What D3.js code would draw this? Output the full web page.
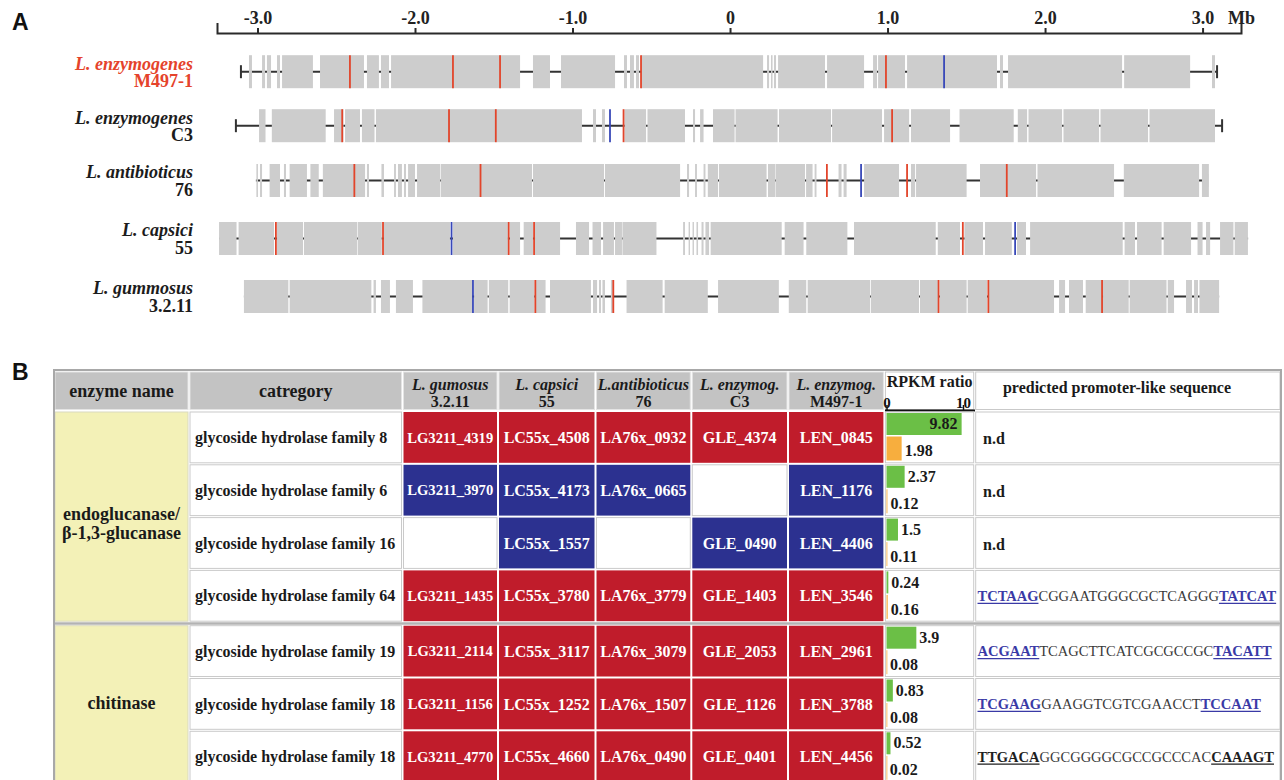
<!DOCTYPE html>
<html><head><meta charset="utf-8">
<script src="https://cdn.jsdelivr.net/npm/d3@7"></script>
<style>
html,body{margin:0;padding:0;background:#fff;}
svg{display:block;}
svg text{font-family:"Liberation Serif","DejaVu Serif","Times New Roman",Times,serif;}
svg text.sans{font-family:"Liberation Sans",Arial,Helvetica,sans-serif;}
</style></head><body>
<svg id="chart" width="1284" height="780"></svg>
<script>
// ================= Panel A data =================
const axisTicks = [-3, -2, -1, 0, 1, 2, 3];
const axisTickLabels = ["-3.0", "-2.0", "-1.0", "0", "1.0", "2.0", "3.0"];
const trackSpecies = ["L. enzymogenes", "L. enzymogenes", "L. antibioticus", "L. capsici", "L. gummosus"];
const trackStrains = ["M497-1", "C3", "76", "55", "3.2.11"];
const trackExtents = [[-3.105, 3.092], [-3.137, 3.124], [-3.010, 3.029], [-3.244, 3.289], [-3.086, 3.105]];
const trackCaps = [[true, true], [true, true], [false, true], [false, false], [false, false]];

const blocksM497 = [[-3.054,-3.035],[-2.971,-2.952],[-2.940,-2.914],[-2.876,-2.857],[-2.844,-2.648],[-2.603,-2.324],[-2.305,-2.229],[-2.216,-2.165],[-2.152,-1.333],[-1.251,-1.143],[-1.073,-0.730],[-0.673,-0.654],[-0.635,-0.610],[-0.597,-0.578],[-0.565,0.210],[0.235,0.248],[0.260,0.270],[0.279,0.292],[0.305,0.603],[0.616,0.851],[0.908,0.933],[0.940,1.111],[1.124,1.695],[1.714,1.733],[1.765,2.489],[2.502,2.921],[3.060,3.079]];
const blocksC3 = [[-2.990,-2.949],[-2.909,-2.567],[-2.514,-2.454],[-2.444,-2.349],[-2.337,-2.257],[-2.248,-0.940],[-0.870,-0.851],[-0.813,-0.794],[-0.670,-0.533],[-0.524,-0.286],[-0.235,-0.222],[-0.190,-0.168],[-0.108,0.029],[0.035,0.302],[0.311,0.641],[0.648,0.965],[0.978,1.137],[1.149,1.397],[1.457,1.801],[1.827,1.886],[1.895,2.108],[2.117,2.343],[2.352,2.654],[2.663,3.079]];
const blocks76 = [[-3.007,-2.997],[-2.984,-2.971],[-2.923,-2.857],[-2.832,-2.819],[-2.796,-2.686],[-2.664,-2.611],[-2.585,-2.317],[-2.305,-2.292],[-2.213,-2.197],[-2.133,-2.121],[-2.108,-2.083],[-2.070,-2.057],[-2.044,-2.000],[-1.987,-1.841],[-1.837,-1.257],[-1.251,-0.800],[-0.794,-0.317],[-0.273,-0.260],[-0.222,-0.210],[-0.168,-0.156],[-0.141,-0.076],[-0.070,0.232],[0.241,0.286],[0.289,0.476],[0.483,0.524],[0.537,0.549],[0.689,0.708],[0.721,0.740],[0.851,1.073],[1.149,1.175],[1.181,1.502],[1.587,1.943],[1.952,2.438],[2.500,2.978],[2.996,3.040]];
const blocks55 = [[-3.244,-3.133],[-3.120,-2.895],[-2.876,-2.711],[-2.705,-2.368],[-2.364,-2.211],[-2.197,-1.778],[-1.759,-1.410],[-1.397,-1.333],[-1.310,-1.251],[-1.238,-1.079],[-0.978,-0.895],[-0.873,-0.819],[-0.806,-0.737],[-0.730,-0.686],[-0.683,-0.467],[-0.298,-0.286],[-0.263,-0.254],[-0.238,-0.229],[-0.213,-0.203],[-0.181,-0.168],[-0.156,-0.133],[-0.123,0.328],[0.347,0.467],[0.484,0.745],[0.787,1.306],[1.319,1.460],[1.488,1.606],[1.619,1.789],[1.822,1.879],[1.905,2.493],[2.505,2.571],[2.584,2.740],[2.753,2.927],[2.968,3.000],[3.022,3.048],[3.111,3.196],[3.204,3.288]];
const blocks3211 = [[-3.086,-2.804],[-2.796,-2.277],[-2.263,-2.248],[-2.216,-2.159],[-2.121,-2.013],[-1.953,-1.638],[-1.625,-1.539],[-1.531,-1.408],[-1.399,-1.242],[-1.232,-1.171],[-1.143,-0.883],[-0.870,-0.844],[-0.832,-0.819],[-0.810,-0.794],[-0.756,-0.743],[-0.657,-0.428],[-0.415,-0.141],[-0.076,0.310],[0.373,0.484],[0.493,0.889],[0.894,1.200],[1.206,1.321],[1.332,1.502],[1.509,1.632],[1.644,2.057],[2.089,2.127],[2.152,2.241],[2.258,2.362],[2.368,2.531],[2.537,2.771],[2.779,2.819],[2.895,2.933],[2.946,2.971],[2.980,3.105]];
const trackBlocks = [blocksM497, blocksC3, blocks76, blocks55, blocks3211];

const redMarks = [[-2.413,-1.759,-1.460,-0.565,0.990],[-2.462,-1.784,-1.487,-0.676,1.029],[-2.385,-1.584,0.615,1.124,1.757],[-2.883,-2.203,-1.405,-1.244,1.478],[-1.236,-0.741,1.324,1.640,2.362]];
const blueMarks = [[1.359],[-0.762],[0.832],[-1.768,1.810],[-1.632]];

// ================= Panel B data =================
const categories = ["glycoside hydrolase family 8","glycoside hydrolase family 6","glycoside hydrolase family 16","glycoside hydrolase family 64","glycoside hydrolase family 19","glycoside hydrolase family 18","glycoside hydrolase family 18"];
const enzymeGroupLabels = [["endoglucanase/","β-1,3-glucanase"],["chitinase"]];
const enzymeGroupRows = [[0,3],[4,6]];
const strainHeads = ["L. gumosus","L. capsici","L.antibioticus","L. enzymog.","L. enzymog."];
const strainIds = ["3.2.11","55","76","C3","M497-1"];
const genesGumosus = ["LG3211_4319","LG3211_3970","","LG3211_1435","LG3211_2114","LG3211_1156","LG3211_4770"];
const genesCapsici = ["LC55x_4508","LC55x_4173","LC55x_1557","LC55x_3780","LC55x_3117","LC55x_1252","LC55x_4660"];
const genesAntibioticus = ["LA76x_0932","LA76x_0665","","LA76x_3779","LA76x_3079","LA76x_1507","LA76x_0490"];
const genesC3 = ["GLE_4374","","GLE_0490","GLE_1403","GLE_2053","GLE_1126","GLE_0401"];
const genesM497 = ["LEN_0845","LEN_1176","LEN_4406","LEN_3546","LEN_2961","LEN_3788","LEN_4456"];
const rowColorKind = ["red","blue","blue","red","red","red","red"];
const rpkmGreen = [9.82, 2.37, 1.5, 0.24, 3.9, 0.83, 0.52];
const rpkmOrange = [1.98, 0.12, 0.11, 0.16, 0.08, 0.08, 0.02];
const rpkmTicks = [0, 10];
const promoterLeft  = ["", "", "", "TCTAAG", "ACGAAT", "TCGAAG", "TTGACA"];
const promoterMid   = ["n.d", "n.d", "n.d", "CGGAATGGGCGCTCAGGG", "TCAGCTTCATCGCGCCGC", "GAAGGTCGTCGAACCT", "GGCGGGGCGCCGCCCAC"];
const promoterRight = ["", "", "", "TATCAT", "TACATT", "TCCAAT", "CAAAGT"];
const promoterMotifKind = ["", "", "", "blue", "blue", "blue", "black"];

// ================= Drawing =================
const svg = d3.select("#chart");

// panel letters
svg.append("text").attr("class", "sans").attr("x", 12).attr("y", 30).text("A")
  .attr("font-weight", "bold").attr("font-size", 23).attr("fill", "#111");
svg.append("text").attr("class", "sans").attr("x", 12).attr("y", 380).text("B")
  .attr("font-weight", "bold").attr("font-size", 23).attr("fill", "#111");

// ----- Panel A -----
const x = d3.scaleLinear().domain([-3.257, 3.244]).range([217, 1241]);
const axisG = svg.append("g").attr("transform", "translate(0,33)")
  .call(d3.axisTop(x).tickValues(axisTicks).tickFormat((d, i) => axisTickLabels[i])
    .tickSizeInner(5).tickSizeOuter(10).tickPadding(4));
axisG.attr("font-family", null);
axisG.select(".domain").attr("stroke", "#2a2a2a").attr("stroke-width", 2);
axisG.selectAll(".tick line").attr("stroke", "#2a2a2a").attr("stroke-width", 2);
axisG.selectAll(".tick text").attr("font-weight", "bold")
  .attr("font-size", 18).attr("fill", "#222");
svg.append("text").attr("x", 1228).attr("y", 24).text("Mb")
  .attr("font-weight", "bold").attr("font-size", 18).attr("fill", "#222");

const ty = d3.scaleLinear().domain([0, 1, 2, 3, 4]).range([71.7, 125.7, 180.5, 238.5, 296.5]);
const trackH = 33;
const tracks = svg.append("g");
trackSpecies.forEach((sp, i) => {
  const cy = ty(i);
  const g = tracks.append("g");
  const ext = trackExtents[i];
  g.append("line").attr("x1", x(ext[0])).attr("x2", x(ext[1])).attr("y1", cy).attr("y2", cy)
    .attr("stroke", "#333").attr("stroke-width", 2);
  trackCaps[i].forEach((c, j) => {
    if (!c) return;
    g.append("line").attr("x1", x(ext[j])).attr("x2", x(ext[j]))
      .attr("y1", cy - 6.5).attr("y2", cy + 6.5).attr("stroke", "#333").attr("stroke-width", 2);
  });
  g.selectAll("rect.blk").data(trackBlocks[i]).join("rect").attr("class", "blk")
    .attr("x", d => x(d[0])).attr("width", d => Math.max(1, x(d[1]) - x(d[0])))
    .attr("y", cy - trackH / 2).attr("height", trackH).attr("fill", "#cdcdcd");
  g.selectAll("line.red").data(redMarks[i]).join("line").attr("class", "red")
    .attr("x1", d => x(d)).attr("x2", d => x(d)).attr("y1", cy - trackH / 2).attr("y2", cy + trackH / 2)
    .attr("stroke", "#e2452b").attr("stroke-width", 1.8);
  g.selectAll("line.blue").data(blueMarks[i]).join("line").attr("class", "blue")
    .attr("x1", d => x(d)).attr("x2", d => x(d)).attr("y1", cy - trackH / 2).attr("y2", cy + trackH / 2)
    .attr("stroke", "#3848b8").attr("stroke-width", 1.8);
  const col = i === 0 ? "#e5432b" : "#1c1c1c";
  g.append("text").attr("x", 193).attr("y", cy - 8.5).attr("dy", "0.35em").attr("text-anchor", "end")
    .attr("font-weight", "bold").attr("font-style", "italic")
    .attr("font-size", 18).attr("fill", col).text(sp);
  g.append("text").attr("x", 193).attr("y", cy + 9).attr("dy", "0.35em").attr("text-anchor", "end")
    .attr("font-weight", "bold")
    .attr("font-size", 18).attr("fill", col).text(trackStrains[i]);
});

// ----- Panel B -----
const cols = [54, 189, 402.5, 498, 595.5, 691.3, 788, 884.4, 974.7, 1281];
const hdrTop = 371, hdrBot = 410.5, rowH = 52.8, grpGap = 2.5;
const rowTop = i => 411 + rowH * i + (i >= 4 ? grpGap : 0);
const RED = "#c01c2b", BLUE = "#2c3190", GRAY = "#c3c3c3", YEL = "#f3f1b7";
const tbl = svg.append("g");

function cell(x0, y0, x1, y1, fill, stroke) {
  tbl.append("rect").attr("x", x0 + 1).attr("y", y0 + 1)
    .attr("width", x1 - x0 - 2).attr("height", y1 - y0 - 2)
    .attr("fill", fill).attr("stroke", stroke || "none").attr("stroke-width", 1);
}
function txt(xp, yp, s, opts) {
  const t = tbl.append("text").attr("x", xp).attr("y", yp).attr("dy", "0.35em")
    .attr("font-weight", opts.w || "bold")
    .attr("font-size", opts.size || 16).attr("fill", opts.fill || "#1a1a1a")
    .attr("text-anchor", opts.anchor || "middle").text(s);
  if (opts.italic) t.attr("font-style", "italic");
  return t;
}

// header
for (let c = 0; c < 7; c++) cell(cols[c], hdrTop, cols[c + 1], hdrBot, GRAY, "#e4e4e4");
cell(cols[7], hdrTop, cols[8], hdrBot, "#fff", "#c9c9c9");
cell(cols[8], hdrTop, cols[9], hdrBot, "#fff", "#c9c9c9");
txt((cols[0] + cols[1]) / 2, 391, "enzyme name", { size: 18 });
txt((cols[1] + cols[2]) / 2, 391, "catregory", { size: 18 });
strainHeads.forEach((h, k) => {
  const cx = (cols[2 + k] + cols[3 + k]) / 2;
  txt(cx, 384.5, h, { size: 16, italic: true });
  txt(cx, 401, strainIds[k], { size: 16 });
});
txt((cols[7] + cols[8]) / 2, 381, "RPKM ratio", { size: 16 });
txt(1117, 387, "predicted promoter-like sequence", { size: 16 });

// RPKM scale
const r = d3.scaleLinear().domain([0, 10]).range([886.5, 963]);
tbl.append("line").attr("x1", 885).attr("x2", 975).attr("y1", 410.5).attr("y2", 410.5)
  .attr("stroke", "#111").attr("stroke-width", 2);
const rAxis = tbl.append("g").attr("transform", "translate(0,410)")
  .call(d3.axisTop(r).tickValues(rpkmTicks).tickFormat(d3.format("d")).tickSizeInner(5).tickSizeOuter(0).tickPadding(-3));
rAxis.attr("font-family", null);
rAxis.select(".domain").remove();
rAxis.selectAll(".tick line").attr("stroke", "#111").attr("stroke-width", 1.5);
rAxis.selectAll(".tick text").attr("font-weight", "bold")
  .attr("font-size", 15).attr("fill", "#111");

// enzyme group cells
enzymeGroupRows.forEach((gr, k) => {
  const y0 = rowTop(gr[0]), y1 = rowTop(gr[1]) + rowH;
  cell(cols[0], y0, cols[1], y1, YEL, "#d9d9c0");
  const lines = enzymeGroupLabels[k];
  const cyMid = k === 0 ? 523 : (y0 + Math.min(y1, 780)) / 2;
  lines.forEach((s, j) => {
    txt((cols[0] + cols[1]) / 2, cyMid + (j - (lines.length - 1) / 2) * 19, s, { size: 18 });
  });
});

const geneCols = [genesGumosus, genesCapsici, genesAntibioticus, genesC3, genesM497];
categories.forEach((cat, i) => {
  const y0 = rowTop(i), y1 = y0 + rowH, cy = (y0 + y1) / 2;
  cell(cols[1], y0, cols[2], y1, "#fff", "#cacaca");
  txt(cols[1] + 6, cy, cat, { size: 16, anchor: "start" });
  geneCols.forEach((gc, k) => {
    const id = gc[i];
    if (id) {
      cell(cols[2 + k], y0, cols[3 + k], y1, rowColorKind[i] === "red" ? RED : BLUE, null);
      txt((cols[2 + k] + cols[3 + k]) / 2, cy, id,
        { size: id.startsWith("LG") ? 14.6 : 16, fill: "#fff" });
    } else {
      cell(cols[2 + k], y0, cols[3 + k], y1, "#fff", "#cacaca");
    }
  });
  // RPKM cell
  cell(cols[7], y0, cols[8], y1, "#fff", "#cacaca");
  const gEnd = r(rpkmGreen[i]), oEnd = r(rpkmOrange[i]);
  tbl.append("rect").attr("x", r(0)).attr("y", y0 + 2).attr("width", gEnd - r(0)).attr("height", 22)
    .attr("fill", "#6bbf46");
  tbl.append("rect").attr("x", r(0)).attr("y", y0 + 25.5).attr("width", Math.max(0.8, oEnd - r(0))).attr("height", 24)
    .attr("fill", "#f7ae3e");
  if (rpkmGreen[i] > 7) txt(gEnd - 4, y0 + 12.5, String(rpkmGreen[i]), { size: 16, anchor: "end" });
  else txt(gEnd + 3, y0 + 12.5, String(rpkmGreen[i]), { size: 16, anchor: "start" });
  txt(oEnd + 3, y0 + 39.5, String(rpkmOrange[i]), { size: 16, anchor: "start" });
  // promoter cell
  cell(cols[8], y0, cols[9], y1, "#fff", "#cacaca");
  if (!promoterLeft[i]) {
    txt(983, cy + 1, promoterMid[i], { size: 16, anchor: "start" });
  } else {
    const mc = promoterMotifKind[i] === "blue" ? "#3a3aa6" : "#1e1e1e";
    let xp = 977.5;
    const parts = [[promoterLeft[i], true], [promoterMid[i], false], [promoterRight[i], true]];
    parts.forEach(([s, motif]) => {
      const t = txt(xp, cy, s, { size: 14.5, anchor: "start", w: motif ? "bold" : "normal", fill: motif ? mc : "#3a3a3a" });
      const wdt = t.node().getComputedTextLength();
      if (motif) {
        tbl.append("line").attr("x1", xp).attr("x2", xp + wdt).attr("y1", cy + 7.5).attr("y2", cy + 7.5)
          .attr("stroke", mc).attr("stroke-width", 1.3);
      }
      xp += wdt;
    });
  }
});

// group separator and outer border
tbl.append("line").attr("x1", 54).attr("x2", 1281).attr("y1", rowTop(4) - 1.25).attr("y2", rowTop(4) - 1.25)
  .attr("stroke", "#b3b3b3").attr("stroke-width", 2.5);
tbl.append("rect").attr("x", 54).attr("y", 370).attr("width", 1227).attr("height", 430)
  .attr("fill", "none").attr("stroke", "#a8a8a8").attr("stroke-width", 2);
</script>
</body></html>
